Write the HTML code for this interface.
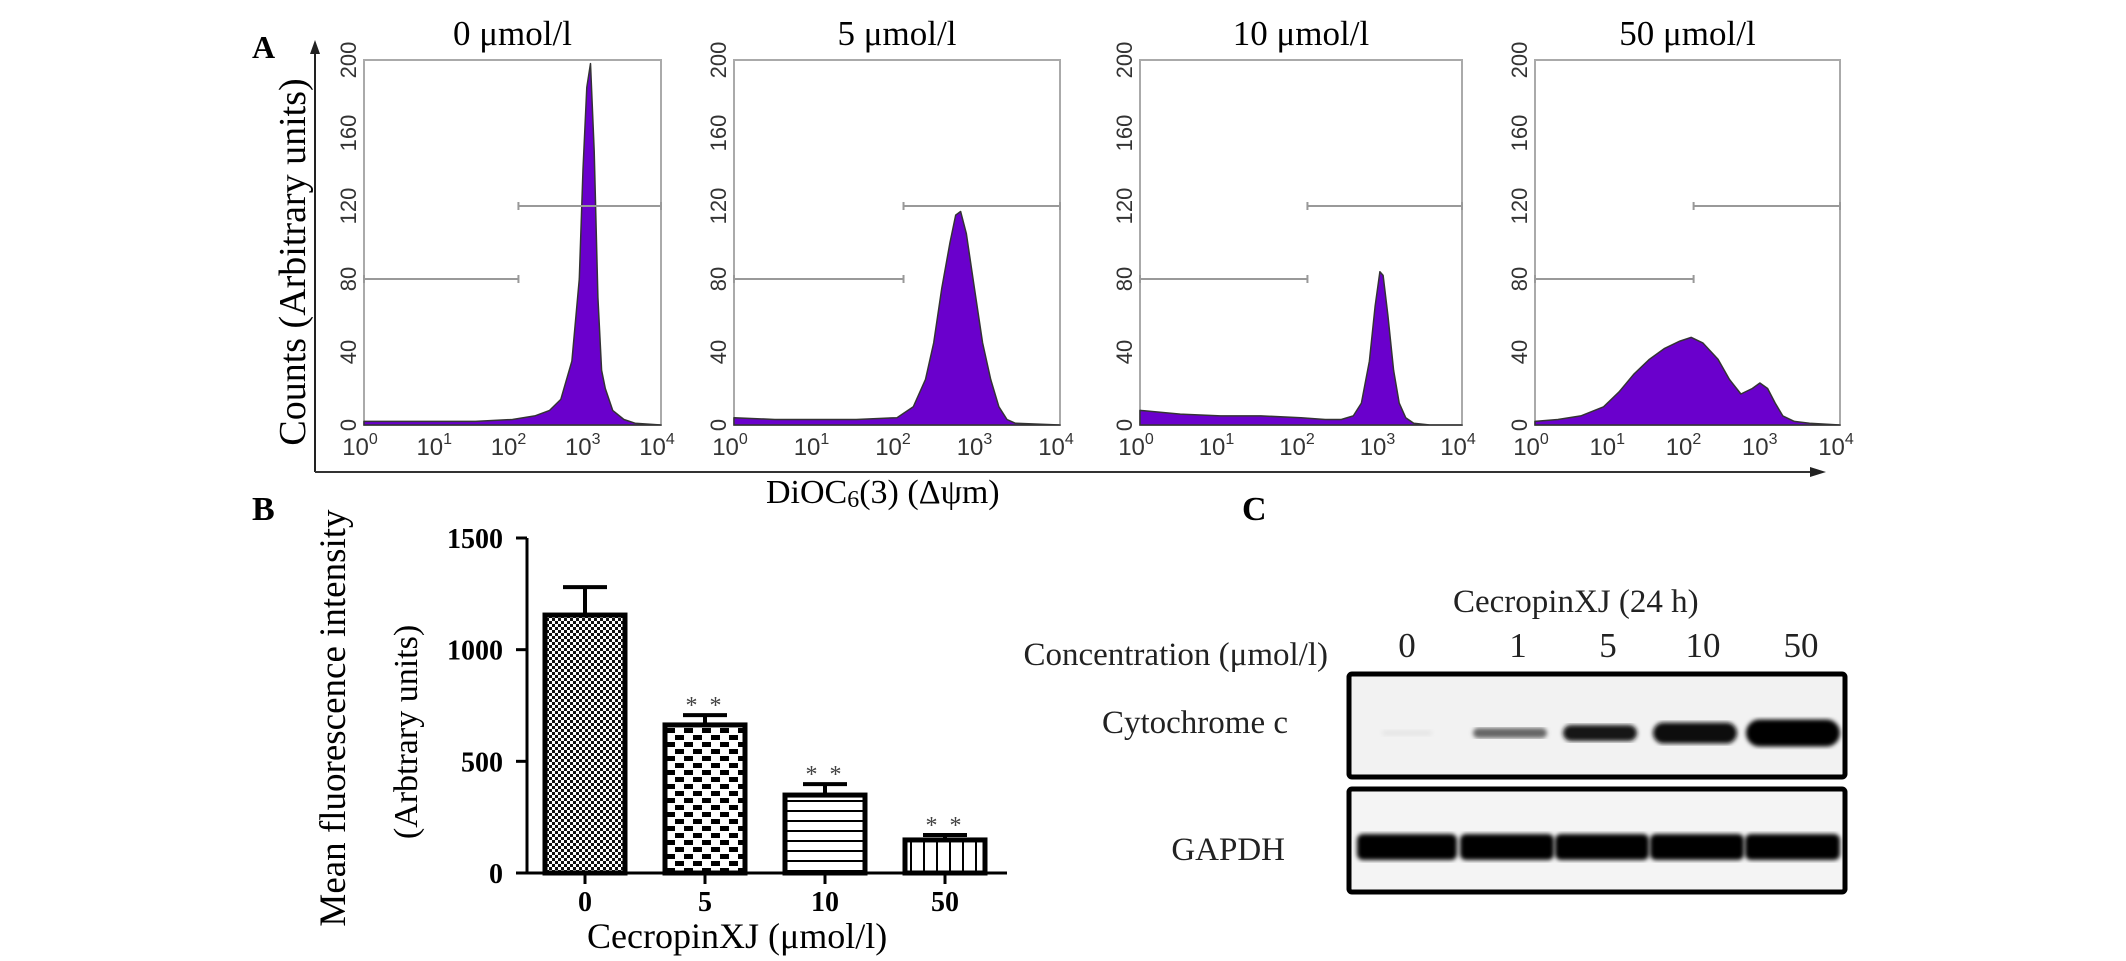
<!DOCTYPE html>
<html><head><meta charset="utf-8"><style>
html,body{margin:0;padding:0;background:#fff;}
svg{display:block;}
.serif{font-family:"Liberation Serif",serif;}
.sans{font-family:"Liberation Sans",sans-serif;}
</style></head><body>
<svg id="fig" width="2126" height="961" viewBox="0 0 2126 961" xmlns="http://www.w3.org/2000/svg">
<defs>
<pattern id="patFine" width="6" height="6" patternUnits="userSpaceOnUse"><rect width="6" height="6" fill="#fff"/><rect width="3" height="3" fill="#111"/><rect x="3" y="3" width="3" height="3" fill="#111"/></pattern>
<pattern id="patCheck" width="18" height="14" patternUnits="userSpaceOnUse"><rect width="18" height="14" fill="#fff"/><rect width="9" height="5" fill="#000"/><rect x="9" y="7" width="9" height="5" fill="#000"/></pattern>
<pattern id="patH" width="10" height="10" patternUnits="userSpaceOnUse"><rect width="10" height="10" fill="#fff"/><rect y="0" width="10" height="2" fill="#000"/></pattern>
<pattern id="patV" width="13" height="10" patternUnits="userSpaceOnUse"><rect width="13" height="10" fill="#fff"/><rect x="0" width="2" height="10" fill="#000"/></pattern>
<filter id="blur2"><feGaussianBlur stdDeviation="2"/></filter>
</defs>
<g id="panelA"></g>
<g id="panelB"></g>
<g id="panelC"></g>
</svg>
<script>
// ---- Panel A data (x = log10 fluorescence, y = counts) ----
const histTitles = ["0 μmol/l", "5 μmol/l", "10 μmol/l", "50 μmol/l"];
const histLogX0 = [0,0.5,1,1.5,2,2.3,2.5,2.65,2.8,2.9,2.95,3.0,3.05,3.1,3.15,3.2,3.25,3.35,3.5,3.65,4];
const histY0    = [2,2,2,2,3,5,8,14,35,80,140,185,198,150,70,30,20,8,3,1,0];
const histLogX1 = [0,0.5,1,1.5,2,2.2,2.35,2.45,2.55,2.65,2.72,2.78,2.85,2.95,3.05,3.15,3.25,3.35,3.45,4];
const histY1    = [4,3,3,3,4,10,25,45,75,100,115,117,105,75,45,25,10,3,1,0];
const histLogX2 = [0,0.5,1,1.5,2,2.3,2.5,2.65,2.75,2.85,2.92,2.98,3.02,3.08,3.15,3.22,3.3,3.4,3.6,4];
const histY2    = [8,6,5,5,4,3,3,5,12,35,65,84,82,60,30,12,4,1,0,0];
const histLogX3 = [0,0.3,0.6,0.9,1.1,1.3,1.5,1.7,1.9,2.05,2.2,2.4,2.55,2.7,2.85,2.95,3.05,3.15,3.25,3.4,3.6,4];
const histY3    = [2,3,5,10,18,28,36,42,46,48,45,36,25,17,20,23,20,12,5,2,1,0];
const histX = [histLogX0, histLogX1, histLogX2, histLogX3];
const histY = [histY0, histY1, histY2, histY3];
const histYTicks = [0, 40, 80, 120, 160, 200];
const histXTicks = [0, 1, 2, 3, 4];
const gateLeftY = 80, gateRightY = 120, gateSplit = 2.08;

// ---- Panel B data ----
const barCats = ["0", "5", "10", "50"];
const barVals = [1155, 663, 349, 148];
const barErr  = [125, 44, 49, 22];
const barSig  = ["", "**", "**", "**"];
const barYTicks = [0, 500, 1000, 1500];

// ---- Panel C data ----
const laneLabels = ["0", "1", "5", "10", "50"];
const cytoIntensity = [0.1, 0.6, 0.92, 0.97, 1.0];
const cytoThickness = [6, 10, 16, 21, 27];
const gapdhIntensity = [1, 1, 1, 1, 1];

const NS = "http://www.w3.org/2000/svg";
function mk(parent, tag, attrs, text){
  const e = document.createElementNS(NS, tag);
  for (const k in attrs) e.setAttribute(k, attrs[k]);
  if (text !== undefined) e.textContent = text;
  parent.appendChild(e);
  return e;
}

// ===== Panel A =====
const A = document.getElementById("panelA");
const boxes = [[364,661],[734,1060],[1140,1462],[1535,1840]];
const boxTop = 60, boxBot = 425;
const yHist = v => boxBot - v * (boxBot - boxTop) / 200;

let t = mk(A, "text", {x:252, y:58, "font-size":32, "font-weight":"bold", class:"serif"}, "A");


let l = mk(A, "line", {x1:315, y1:472, x2:315, y2:50, stroke:"#222", "stroke-width":2});


let p = mk(A, "path", {d:"M315 40 L310 54 L320 54 Z", fill:"#222"});


l = mk(A, "line", {x1:315, y1:472, x2:1815, y2:472, stroke:"#333", "stroke-width":2});


p = mk(A, "path", {d:"M1826 472 L1810 467 L1810 477 Z", fill:"#222"});


t = mk(A, "text", {x:0, y:0, "font-size":38, class:"serif", "text-anchor":"middle", transform:"translate(305,262) rotate(-90)"}, "Counts (Arbitrary units)");


t = mk(A, "text", {x:766, y:503, "font-size":34, class:"serif"});


t.innerHTML = 'DiOC<tspan font-size="24" dy="4">6</tspan><tspan dy="-4">(3) (Δψm)</tspan>';

boxes.forEach((b, i) => {
  const g = mk(A, "g", {});
  
  
  const xS = v => b[0] + v * (b[1] - b[0]) / 4;
  const tt = mk(g, "text", {x:(b[0]+b[1])/2, y:45, "font-size":35, class:"serif", "text-anchor":"middle"}, histTitles[i]);
  
  
  const r = mk(g, "rect", {x:b[0], y:boxTop, width:b[1]-b[0], height:boxBot-boxTop, fill:"none", stroke:"#aaa", "stroke-width":2});
  
  
  const xs = histX[i], ys = histY[i];
  let d = "M" + xS(xs[0]) + " " + boxBot;
  xs.forEach((x, k) => { d += " L" + xS(x).toFixed(1) + " " + yHist(ys[k]).toFixed(1); });
  d += " L" + xS(xs[xs.length-1]) + " " + boxBot + " Z";
  const hp = mk(g, "path", {d:d, fill:"#6a00cc", stroke:"#333", "stroke-width":1.5, "stroke-linejoin":"round"});
  
  
  const gl = mk(g, "line", {x1:b[0], y1:yHist(gateLeftY), x2:xS(gateSplit), y2:yHist(gateLeftY), stroke:"#999", "stroke-width":2});
  
  
  const gr = mk(g, "line", {x1:xS(gateSplit), y1:yHist(gateRightY), x2:b[1], y2:yHist(gateRightY), stroke:"#999", "stroke-width":2});
  
  
  [[b[0], gateLeftY],[xS(gateSplit), gateLeftY],[xS(gateSplit), gateRightY],[b[1], gateRightY]].forEach(q => {
    const c = mk(g, "line", {x1:q[0], y1:yHist(q[1])-4, x2:q[0], y2:yHist(q[1])+4, stroke:"#999", "stroke-width":2});
    
    
  });
  histYTicks.forEach(v => {
    const tk = mk(g, "text", {x:0, y:0, "font-size":22, class:"sans", fill:"#333", "text-anchor":"middle", transform:"translate(" + (b[0]-8) + "," + yHist(v) + ") rotate(-90)"}, String(v));
    
    
  });
  histXTicks.forEach(v => {
    const tk = mk(g, "text", {x:xS(v)-4, y:455, "font-size":24, class:"sans", fill:"#333", "text-anchor":"middle"});
    
    
    tk.innerHTML = '10<tspan font-size="16" dy="-11">' + v + '</tspan>';
  });
});

// ===== Panel B =====
const B = document.getElementById("panelB");
const bx0 = 527, by0 = 873, byTop = 538, bAxisEnd = 1007;
const yBar = v => by0 - v * (by0 - byTop) / 1500;
const xBar = i => 585 + i * 120;
const fills = ["url(#patFine)", "url(#patCheck)", "url(#patH)", "url(#patV)"];
t = mk(B, "text", {x:252, y:520, "font-size":34, "font-weight":"bold", class:"serif"}, "B");


t = mk(B, "text", {x:0, y:0, "font-size":37, class:"serif", "text-anchor":"middle", transform:"translate(345,718) rotate(-90)"}, "Mean fluorescence intensity");


t = mk(B, "text", {x:0, y:0, "font-size":34, class:"serif", "text-anchor":"middle", transform:"translate(417,732) rotate(-90)"}, "(Arbtrary units)");


l = mk(B, "line", {x1:bx0, y1:byTop, x2:bx0, y2:by0, stroke:"#000", "stroke-width":3});


l = mk(B, "line", {x1:bx0, y1:by0, x2:bAxisEnd, y2:by0, stroke:"#000", "stroke-width":3});


barYTicks.forEach(v => {
  const tk = mk(B, "line", {x1:bx0-11, y1:yBar(v), x2:bx0, y2:yBar(v), stroke:"#000", "stroke-width":3});
  
  
  const tl = mk(B, "text", {x:503, y:yBar(v)+10, "font-size":28, "font-weight":"bold", class:"serif", "text-anchor":"end"}, String(v));
  
  
});
barCats.forEach((c, i) => {
  const cx = xBar(i);
  const r = mk(B, "rect", {x:cx-40, y:yBar(barVals[i]), width:80, height:by0-yBar(barVals[i]), fill:fills[i], stroke:"#000", "stroke-width":5});
  
  
  const e1 = mk(B, "line", {x1:cx, y1:yBar(barVals[i]), x2:cx, y2:yBar(barVals[i]+barErr[i]), stroke:"#000", "stroke-width":4});
  
  
  const e2 = mk(B, "line", {x1:cx-22, y1:yBar(barVals[i]+barErr[i]), x2:cx+22, y2:yBar(barVals[i]+barErr[i]), stroke:"#000", "stroke-width":4});
  
  
  if (barSig[i]) {
    const s = mk(B, "text", {x:cx, y:yBar(barVals[i]+barErr[i])-2, "font-size":24, class:"serif", fill:"#444", "text-anchor":"middle", "letter-spacing":"3"}, "* *");
    
    
  }
  const tk = mk(B, "line", {x1:cx, y1:by0, x2:cx, y2:by0+11, stroke:"#000", "stroke-width":3});
  
  
  const tl = mk(B, "text", {x:cx, y:911, "font-size":28, "font-weight":"bold", class:"serif", "text-anchor":"middle"}, c);
  
  
});
t = mk(B, "text", {x:587, y:948, "font-size":36, class:"serif"}, "CecropinXJ (μmol/l)");



// ===== Panel C =====
const C = document.getElementById("panelC");
const laneX = [1407, 1518, 1608, 1703, 1801];
const laneW = [50, 74, 74, 84, 94];
t = mk(C, "text", {x:1242, y:520, "font-size":34, "font-weight":"bold", class:"serif"}, "C");


t = mk(C, "text", {x:1453, y:612, "font-size":33, class:"serif", fill:"#222"}, "CecropinXJ (24 h)");


t = mk(C, "text", {x:1328, y:665, "font-size":33, class:"serif", fill:"#222", "text-anchor":"end"}, "Concentration (μmol/l)");


laneLabels.forEach((s, i) => {
  const tl = mk(C, "text", {x:laneX[i], y:657, "font-size":35, class:"serif", fill:"#222", "text-anchor":"middle"}, s);
  
  
});
t = mk(C, "text", {x:1288, y:733, "font-size":33, class:"serif", fill:"#222", "text-anchor":"end"}, "Cytochrome c");


t = mk(C, "text", {x:1285, y:860, "font-size":33, class:"serif", fill:"#222", "text-anchor":"end"}, "GAPDH");


let r1 = mk(C, "rect", {x:1349, y:674, width:496, height:103, rx:3, fill:"#f2f2f2", stroke:"#000", "stroke-width":5});


let r2 = mk(C, "rect", {x:1349, y:789, width:496, height:103, rx:3, fill:"#f4f4f4", stroke:"#000", "stroke-width":5});


laneX.forEach((x, i) => {
  const g = Math.round(255 * (1 - cytoIntensity[i]));
  const band = mk(C, "rect", {x:x-laneW[i]/2+ (i===0?0:-8), y:733-cytoThickness[i]/2, width:laneW[i], height:cytoThickness[i], rx:cytoThickness[i]/2, fill:"rgb("+g+","+g+","+g+")", filter:"url(#blur2)"});
  
  
  const g2 = Math.round(255 * (1 - gapdhIntensity[i]));
  const gb = mk(C, "rect", {x:[1357,1460,1555,1650,1745][i], y:834, width:[100,94,94,94,95][i], height:26, rx:6, fill:"rgb("+g2+","+g2+","+g2+")", filter:"url(#blur2)"});
  
  
});
</script>
</body></html>
